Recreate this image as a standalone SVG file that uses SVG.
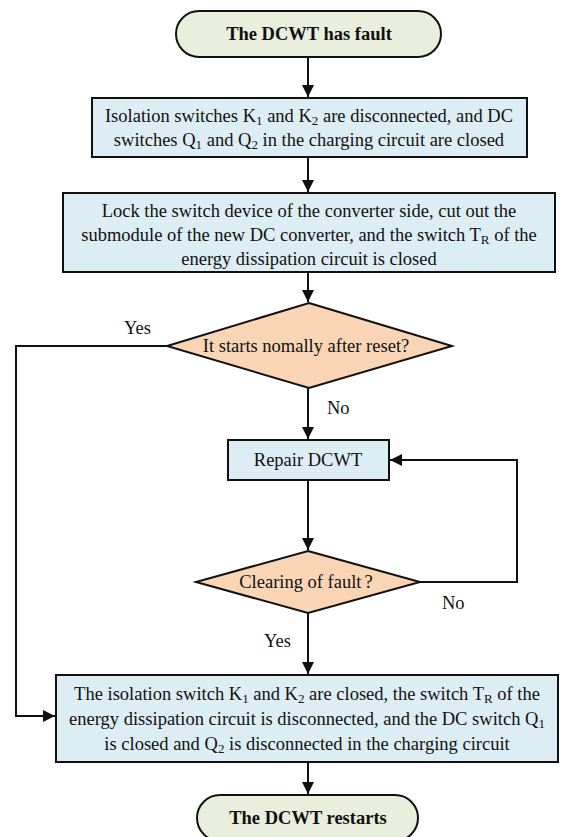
<svg xmlns="http://www.w3.org/2000/svg" width="561" height="837" viewBox="0 0 561 837">
<style>
  text { font-family: "Liberation Serif", "Times New Roman", serif; fill: #111; }
  .t { font-size: 18.5px; text-anchor: middle; }
  .b { font-size: 18.5px; font-weight: bold; text-anchor: middle; }
  .lbl { font-size: 18.5px; }
  .term { fill: #e9efdc; stroke: #111; stroke-width: 2; }
  .box { fill: #dcedf3; stroke: #111; stroke-width: 2; }
  .dia { fill: #f9d5b6; stroke: #111; stroke-width: 2; }
  .sub { font-size: 13px; }
  .conn { fill: none; stroke: #111; stroke-width: 2; }
</style>
<defs>
  <marker id="arr" markerUnits="userSpaceOnUse" markerWidth="12" markerHeight="12" viewBox="0 0 12 12" refX="12" refY="6" orient="auto">
    <path d="M0,0 L12,6 L0,12 z" fill="#111"/>
  </marker>
</defs>

<g id="connectors">
  <line class="conn" x1="308" y1="57" x2="308" y2="97" marker-end="url(#arr)"/>
  <line class="conn" x1="308" y1="157" x2="308" y2="192" marker-end="url(#arr)"/>
  <line class="conn" x1="308" y1="272" x2="308" y2="302" marker-end="url(#arr)"/>
  <line class="conn" x1="308" y1="388" x2="308" y2="439" marker-end="url(#arr)"/>
  <line class="conn" x1="308" y1="480" x2="308" y2="550" marker-end="url(#arr)"/>
  <line class="conn" x1="308" y1="613" x2="308" y2="674" marker-end="url(#arr)"/>
  <line class="conn" x1="308" y1="762" x2="308" y2="794" marker-end="url(#arr)"/>
  <polyline class="conn" points="167,346 16,346 16,716 55,716" marker-end="url(#arr)"/>
  <polyline class="conn" points="420,582 517,582 517,460 390,460" marker-end="url(#arr)"/>
  <text class="lbl" x="124" y="334">Yes</text>
  <text class="lbl" x="327" y="414">No</text>
  <text class="lbl" x="442" y="609">No</text>
  <text class="lbl" x="264" y="647">Yes</text>
</g>

<g id="start">
  <rect class="term" x="176" y="11" width="265" height="46" rx="23" ry="23"/>
  <text class="b" x="309" y="40">The DCWT has fault</text>
</g>

<g id="step1">
  <rect class="box" x="92" y="98" width="435" height="59"/>
  <text class="t" x="309" y="122">Isolation switches K<tspan class="sub" baseline-shift="-3">1</tspan> and K<tspan class="sub" baseline-shift="-3">2</tspan> are disconnected, and DC</text>
  <text class="t" x="309" y="146">switches Q<tspan class="sub" baseline-shift="-3">1</tspan> and Q<tspan class="sub" baseline-shift="-3">2</tspan> in the charging circuit are closed</text>
</g>

<g id="step2">
  <rect class="box" x="63" y="193" width="492" height="79"/>
  <text class="t" x="309" y="217">Lock the switch device of the converter side, cut out the</text>
  <text class="t" x="309" y="241">submodule of the new DC converter, and the switch T<tspan class="sub" baseline-shift="-3">R</tspan> of the</text>
  <text class="t" x="309" y="265">energy dissipation circuit is closed</text>
</g>

<g id="decision1">
  <polygon class="dia" points="309,303 452,346 309,388 167,346"/>
  <text class="t" x="306" y="352">It starts nomally after reset?</text>
</g>

<g id="repair">
  <rect class="box" x="228" y="440" width="161" height="40"/>
  <text class="t" x="308" y="466">Repair DCWT</text>
</g>

<g id="decision2">
  <polygon class="dia" points="308,551 420,582 308,613 196,582"/>
  <text class="t" x="306" y="588">Clearing of fault<tspan dx="3">?</tspan></text>
</g>

<g id="step3">
  <rect class="box" x="56" y="675" width="502" height="87"/>
  <text class="t" x="307" y="700">The isolation switch K<tspan class="sub" baseline-shift="-3">1</tspan> and K<tspan class="sub" baseline-shift="-3">2</tspan> are closed, the switch T<tspan class="sub" baseline-shift="-3">R</tspan> of the</text>
  <text class="t" x="307" y="725">energy dissipation circuit is disconnected, and the DC switch Q<tspan class="sub" baseline-shift="-3">1</tspan></text>
  <text class="t" x="307" y="750">is closed and Q<tspan class="sub" baseline-shift="-3">2</tspan> is disconnected in the charging circuit</text>
</g>

<g id="end">
  <rect class="term" x="197" y="795" width="221" height="46" rx="23" ry="23"/>
  <text class="b" x="308" y="824">The DCWT restarts</text>
</g>
</svg>
